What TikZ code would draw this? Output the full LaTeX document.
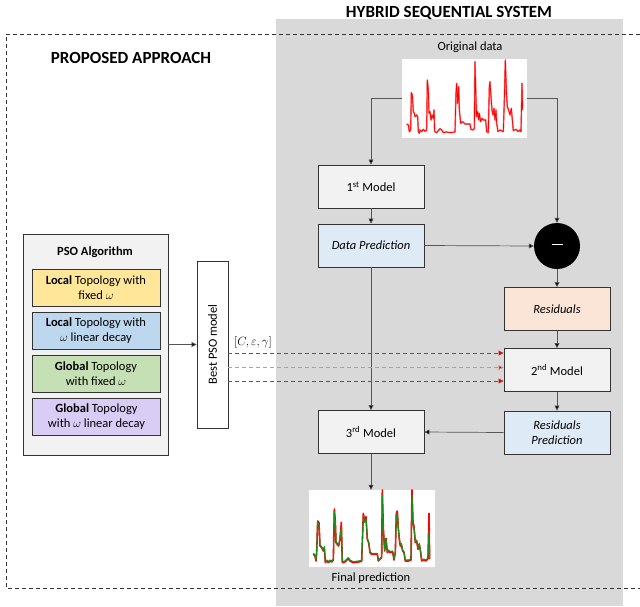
\documentclass[tikz,border=0pt]{standalone}
\usepackage{fontspec}
\setmainfont{Carlito}
\usetikzlibrary{arrows.meta}
\definecolor{bggray}{HTML}{D9D9D9}
\definecolor{boxline}{HTML}{333333}
\definecolor{connc}{HTML}{555555}
\definecolor{modelfill}{HTML}{F2F2F2}
\definecolor{yelfill}{HTML}{FFE699}
\definecolor{bluefill}{HTML}{BDD7EE}
\definecolor{greenfill}{HTML}{C5E0B4}
\definecolor{purfill}{HTML}{D9CCF5}
\definecolor{dpfill}{HTML}{DEEBF7}
\definecolor{resfill}{HTML}{FBE5D6}
\definecolor{redA}{HTML}{CC2A2A}
\definecolor{redB}{HTML}{DE8C8C}
\definecolor{redtip}{HTML}{C00000}
\definecolor{plotred}{HTML}{FF0000}
\definecolor{plotgreen}{HTML}{1E8B1E}
\begin{document}
\begin{tikzpicture}[x=1pt,y=-1pt,
  font=\fontsize{12.5}{15}\selectfont,
  modelbox/.style={draw=boxline, line width=0.9pt, fill=modelfill, minimum width=106pt, minimum height=43pt, align=center, inner sep=2pt},
  psobox/.style={draw=boxline, line width=0.9pt, minimum width=128pt, minimum height=37pt, align=center, inner sep=1pt},
  conn/.style={draw=connc, line width=0.7pt, -{Triangle[length=5pt,width=5pt,fill=black]}},
  reddash/.style={draw=redA, line width=0.8pt, dash pattern=on 4pt off 3pt, -{Triangle[length=5pt,width=5pt,fill=redtip]}},
  plotbox/.style={fill=white, inner sep=0pt},
  title/.style={font=\fontsize{17}{20}\selectfont\bfseries}
]
\useasboundingbox (0,0) rectangle (640,606);
% gray system panel
\fill[bggray] (276,19) rectangle (623,606);
\node[title] (hyb) at (449,13) {HYBRID SEQUENTIAL SYSTEM};
% dashed proposed approach frame
\draw[black!80, line width=0.8pt, dash pattern=on 4pt off 3pt] (640,34) -- (6,34) -- (6,588) -- (640,588);
\node[title, font=\fontsize{17}{20}\selectfont\bfseries] (prop) at (131,58) {PROPOSED APPROACH};

% PSO algorithm block
\node[draw=boxline, line width=0.9pt, fill=modelfill, minimum width=145pt, minimum height=221pt] (pso) at (95.5,344.5) {};
\node[font=\fontsize{12.5}{15}\selectfont\bfseries] (psot) at (95,252) {PSO Algorithm};
\node[psobox, fill=yelfill] (p1) at (96,288) {\textbf{Local} Topology with\\fixed $\omega$};
\node[psobox, fill=bluefill] (p2) at (96,330.5) {\textbf{Local} Topology with\\$\omega$ linear decay};
\node[psobox, fill=greenfill] (p3) at (96,374) {\textbf{Global} Topology\\with fixed $\omega$};
\node[psobox, fill=purfill] (p4) at (96.5,417) {\textbf{Global} Topology\\with $\omega$ linear decay};

% best PSO model
\node[draw=boxline, line width=0.9pt, fill=white, minimum width=31pt, minimum height=167pt, inner sep=0pt] (best) at (212.5,344.5) {};
\node[rotate=90] (bestt) at (212.5,344.5) {Best PSO model};
\draw[conn] (pso.east) -- (best.west);
\node[font=\fontsize{13}{15}\selectfont] (params) at (253,342) {$[C,\varepsilon,\gamma]$};

% original data
\node (origl) at (470,47) {Original data};
\node[plotbox, minimum width=125pt, minimum height=79pt] (orig) at (464.5,98.5) {};
\begin{scope}[shift={(390,50)}, x=0.3333pt, y=-0.3333pt]
\draw[plotred!55, line width=1.6pt, line join=round]
 (50,222) -- (55,225) -- (58,245) -- (62,240) -- (64,128) -- (67,135) -- (70,185) -- (73,190) -- (75,200) -- (80,195) -- (83,200) -- (85,245) -- (88,250) -- (90,240) -- (95,245) -- (100,238) -- (105,244) -- (110,240) -- (112,90) -- (115,120) -- (117,190) -- (120,185) -- (123,210) -- (126,195) -- (130,205) -- (132,180) -- (134,245) -- (140,248) -- (150,236) -- (155,240) -- (160,248) -- (170,246) -- (180,248) -- (195,246) -- (198,130) -- (200,100) -- (203,160) -- (206,110) -- (208,180) -- (212,220) -- (218,215) -- (225,222) -- (240,222) -- (243,238) -- (248,240) -- (253,236) -- (255,35) -- (258,150) -- (260,200) -- (263,185) -- (266,210) -- (268,190) -- (272,215) -- (276,205) -- (280,210) -- (287,210) -- (290,245) -- (295,248) -- (298,110) -- (300,95) -- (303,140) -- (306,180) -- (309,195) -- (312,175) -- (315,210) -- (318,180) -- (320,220) -- (324,245) -- (330,240) -- (340,245) -- (343,150) -- (346,30) -- (349,120) -- (352,170) -- (356,180) -- (360,195) -- (364,175) -- (367,210) -- (370,242) -- (378,238) -- (385,245) -- (390,240) -- (393,245) -- (396,100) -- (398,180);
\draw[plotred, line width=0.7pt, line join=round]
 (50,222) -- (55,225) -- (58,245) -- (62,240) -- (64,128) -- (67,135) -- (70,185) -- (73,190) -- (75,200) -- (80,195) -- (83,200) -- (85,245) -- (88,250) -- (90,240) -- (95,245) -- (100,238) -- (105,244) -- (110,240) -- (112,90) -- (115,120) -- (117,190) -- (120,185) -- (123,210) -- (126,195) -- (130,205) -- (132,180) -- (134,245) -- (140,248) -- (150,236) -- (155,240) -- (160,248) -- (170,246) -- (180,248) -- (195,246) -- (198,130) -- (200,100) -- (203,160) -- (206,110) -- (208,180) -- (212,220) -- (218,215) -- (225,222) -- (240,222) -- (243,238) -- (248,240) -- (253,236) -- (255,35) -- (258,150) -- (260,200) -- (263,185) -- (266,210) -- (268,190) -- (272,215) -- (276,205) -- (280,210) -- (287,210) -- (290,245) -- (295,248) -- (298,110) -- (300,95) -- (303,140) -- (306,180) -- (309,195) -- (312,175) -- (315,210) -- (318,180) -- (320,220) -- (324,245) -- (330,240) -- (340,245) -- (343,150) -- (346,30) -- (349,120) -- (352,170) -- (356,180) -- (360,195) -- (364,175) -- (367,210) -- (370,242) -- (378,238) -- (385,245) -- (390,240) -- (393,245) -- (396,100) -- (398,180);
\end{scope}

% system boxes
\node[modelbox] (m1) at (371,186.5) {1\textsuperscript{st} Model};
\node[modelbox, fill=dpfill] (dp) at (371,245.5) {\itshape Data Prediction};
\node[circle, fill=black, minimum size=46pt, inner sep=0pt, text=white] (minus) at (557,246) {\rule[3pt]{11pt}{1.8pt}};
\node[modelbox, fill=resfill] (res) at (557,309) {\itshape Residuals};
\node[modelbox] (m2) at (557,370) {2\textsuperscript{nd} Model};
\node[modelbox, fill=dpfill] (rp) at (557,432.5) {\itshape Residuals\\\itshape Prediction};
\node[modelbox] (m3) at (371,432) {3\textsuperscript{rd} Model};

% final prediction
\node[plotbox, minimum width=126pt, minimum height=77pt] (fin) at (372,528.5) {};
\begin{scope}[shift={(300,485)}, x=0.3333pt, y=-0.3333pt]
\draw[plotred, line width=1.6pt, line join=round]
 (40,208) -- (45,213) -- (48,228) -- (50,203) -- (53,108) -- (57,113) -- (60,183) -- (65,188) -- (70,198) -- (73,188) -- (76,233) -- (80,228) -- (85,233) -- (90,228) -- (95,231) -- (100,225) -- (103,72) -- (106,110) -- (108,173) -- (112,178) -- (116,183) -- (120,162) -- (124,112) -- (127,233) -- (135,231) -- (145,221) -- (150,228) -- (160,233) -- (175,231) -- (185,229) -- (190,85) -- (194,108) -- (198,95) -- (202,163) -- (206,173) -- (210,203) -- (215,208) -- (225,208) -- (232,208) -- (235,228) -- (240,223) -- (245,218) -- (247,15) -- (250,130) -- (254,198) -- (258,160) -- (262,203) -- (266,198) -- (270,203) -- (278,201) -- (282,225) -- (286,203) -- (289,85) -- (292,78) -- (295,130) -- (298,163) -- (301,183) -- (304,178) -- (308,198) -- (312,203) -- (316,228) -- (325,228) -- (333,225) -- (336,15) -- (339,110) -- (342,125) -- (346,173) -- (350,168) -- (354,193) -- (358,178) -- (362,203) -- (365,228) -- (372,225) -- (378,228) -- (384,221) -- (387,85) -- (389,222);
\draw[plotgreen, line width=1.1pt, line join=round]
 (40,205) -- (45,210) -- (48,225) -- (50,200) -- (53,112) -- (57,117) -- (60,180) -- (65,185) -- (70,195) -- (73,185) -- (76,230) -- (80,225) -- (85,230) -- (90,225) -- (95,228) -- (100,222) -- (103,80) -- (106,112) -- (108,170) -- (112,175) -- (116,180) -- (120,160) -- (124,125) -- (127,230) -- (135,228) -- (145,218) -- (150,225) -- (160,230) -- (175,228) -- (185,226) -- (190,92) -- (194,112) -- (198,102) -- (202,160) -- (206,170) -- (210,200) -- (215,205) -- (225,205) -- (232,205) -- (235,225) -- (240,220) -- (245,215) -- (247,30) -- (250,132) -- (254,195) -- (258,162) -- (262,200) -- (266,195) -- (270,200) -- (278,198) -- (282,222) -- (286,200) -- (289,92) -- (292,85) -- (295,132) -- (298,160) -- (301,180) -- (304,175) -- (308,195) -- (312,200) -- (316,225) -- (325,225) -- (333,222) -- (336,30) -- (339,112) -- (342,127) -- (346,170) -- (350,165) -- (354,190) -- (358,175) -- (362,200) -- (365,225) -- (372,222) -- (378,225) -- (384,218) -- (387,140) -- (389,220);
\end{scope}
\node (finl) at (371,578) {Final prediction};

% connectors
\draw[conn] (orig.west) -| (m1.north);
\draw[conn] (orig.east) -| (minus.north);
\draw[conn] (m1.south) -- (dp.north);
\draw[conn] (dp.east) -- (minus.west);
\draw[conn] (minus.south) -- (res.north);
\draw[conn] (res.south) -- (m2.north);
\draw[conn] (m2.south) -- (rp.north);
\draw[conn] (rp.west) -- (m3.east);
\draw[conn] (dp.south) -- (m3.north);
\draw[conn] (m3.south) -- (m3.south |- fin.north);

% parameter lines
\path (0,353) coordinate (ya) (0,367.5) coordinate (yb) (0,381) coordinate (yc);
\draw[reddash] (best.east |- ya) -- (m2.west |- ya);
\draw[reddash, draw=redB] (best.east |- yb) -- (m2.west |- yb);
\draw[reddash] (best.east |- yc) -- (m2.west |- yc);
\end{tikzpicture}
\end{document}
